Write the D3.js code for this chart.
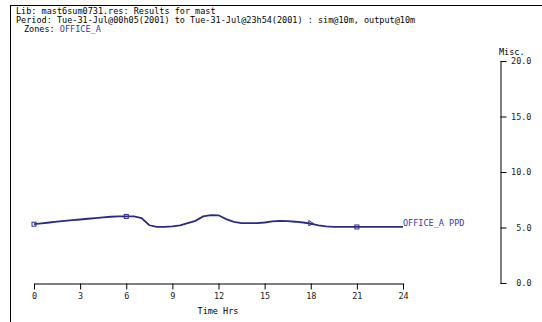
<!DOCTYPE html>
<html>
<head>
<meta charset="utf-8">
<script src="https://cdn.jsdelivr.net/npm/d3@7"></script>
<style>
  body { margin: 0; background: #fff; }
  svg text { font-family: "DejaVu Sans Mono", "Liberation Mono", monospace; font-size: 8.5px; }
</style>
</head>
<body>
<svg id="chart" width="542" height="322"></svg>
<script>
// header text
var libLine = "Lib: mast6sum0731.res: Results for mast";
var periodLine = "Period: Tue-31-Jul@00h05(2001) to Tue-31-Jul@23h54(2001) : sim@10m, output@10m";
var zoneName = "OFFICE_A";

// axis ticks
var hourTicks = [0, 3, 6, 9, 12, 15, 18, 21, 24];
var miscTicks = [0, 5, 10, 15, 20];

// OFFICE_A PPD at half-hour steps
var hours = [0, 0.5, 1, 1.5, 2, 2.5, 3, 3.5, 4, 4.5, 5, 5.5, 6, 6.5, 7, 7.5, 8, 8.5, 9, 9.5,
             10, 10.5, 11, 11.5, 12, 12.5, 13, 13.5, 14, 14.5, 15, 15.5, 16, 16.5, 17, 17.5,
             18, 18.5, 19, 19.5, 20, 20.5, 21, 21.5, 22, 22.5, 23, 23.5, 24];
var ppd = [5.3, 5.38, 5.45, 5.52, 5.6, 5.66, 5.72, 5.79, 5.85, 5.91, 5.97, 6.0, 6.0, 6.0, 5.85, 5.2, 5.05, 5.05, 5.1, 5.2,
           5.4, 5.6, 6.0, 6.12, 6.1, 5.75, 5.5, 5.4, 5.4, 5.4, 5.45, 5.55, 5.6, 5.57, 5.52, 5.45,
           5.35, 5.2, 5.1, 5.05, 5.05, 5.05, 5.05, 5.05, 5.05, 5.05, 5.05, 5.05, 5.05];
var squareMarks = [0, 6, 21];
var triangleMarks = [18];

var lineColor = "#2b2b85";
var svg = d3.select("#chart");

// frame
svg.append("line").attr("x1", 10).attr("y1", 5.5).attr("x2", 542).attr("y2", 5.5).attr("stroke", "#000");
svg.append("line").attr("x1", 10.5).attr("y1", 5).attr("x2", 10.5).attr("y2", 322).attr("stroke", "#000");

svg.append("text").attr("x", 16).attr("y", 14).text(libLine);
svg.append("text").attr("x", 16).attr("y", 23).text(periodLine);
var z = svg.append("text").attr("x", 24).attr("y", 32).attr("xml:space", "preserve");
z.append("tspan").text("Zones: ");
z.append("tspan").attr("fill", "#3838a0").text(zoneName);

var x = d3.scaleLinear().domain([0, 24]).range([34, 403]);
var y = d3.scaleLinear().domain([0, 20]).range([283, 61]);

// bottom axis
var gx = svg.append("g").attr("transform", "translate(0,283.5)")
  .call(d3.axisBottom(x).tickValues(hourTicks).tickSize(6).tickPadding(3).tickSizeOuter(0));
gx.selectAll("text").attr("font-family", null).attr("font-size", null).attr("fill", "#222");
gx.select(".domain").attr("stroke", "#000");
svg.append("text").attr("x", 218).attr("y", 314).attr("text-anchor", "middle").text("Time Hrs");

// right axis
var gy = svg.append("g").attr("transform", "translate(500.5,0)")
  .call(d3.axisRight(y).tickValues(miscTicks).tickFormat(d3.format(".1f")).tickSize(6).tickSizeOuter(0).tickPadding(0));
gy.selectAll("text").attr("font-family", null).attr("font-size", null).attr("fill", "#222")
  .attr("text-anchor", "end").attr("x", 31);
gy.select(".domain").attr("stroke", "#000");
svg.append("text").attr("x", 499).attr("y", 55).text("Misc.");

// series
var line = d3.line().x(function (d, i) { return x(hours[i]); }).y(function (d) { return y(d); });
svg.append("path").datum(ppd).attr("d", line)
  .attr("fill", "none").attr("stroke", lineColor).attr("stroke-width", 1.8);

function valueAt(h) { return ppd[hours.indexOf(h)]; }

svg.selectAll(".sq").data(squareMarks).enter().append("rect")
  .attr("x", function (d) { return x(d) - 2; })
  .attr("y", function (d) { return y(valueAt(d)) - 2; })
  .attr("width", 4).attr("height", 4)
  .attr("fill", "none").attr("stroke", lineColor).attr("stroke-width", 1);
svg.selectAll(".tri").data(triangleMarks).enter().append("path")
  .attr("d", function (d) {
    var cx = x(d), cy = y(valueAt(d));
    return "M" + (cx - 2) + "," + (cy - 3) + "L" + (cx + 3) + "," + cy + "L" + (cx - 2) + "," + (cy + 2) + "Z";
  })
  .attr("fill", "none").attr("stroke", lineColor).attr("stroke-width", 1);

svg.append("text").attr("x", x(24)).attr("y", y(ppd[ppd.length - 1]) - 1)
  .attr("fill", "#3838a0").text(zoneName + " PPD");
</script>
</body>
</html>
